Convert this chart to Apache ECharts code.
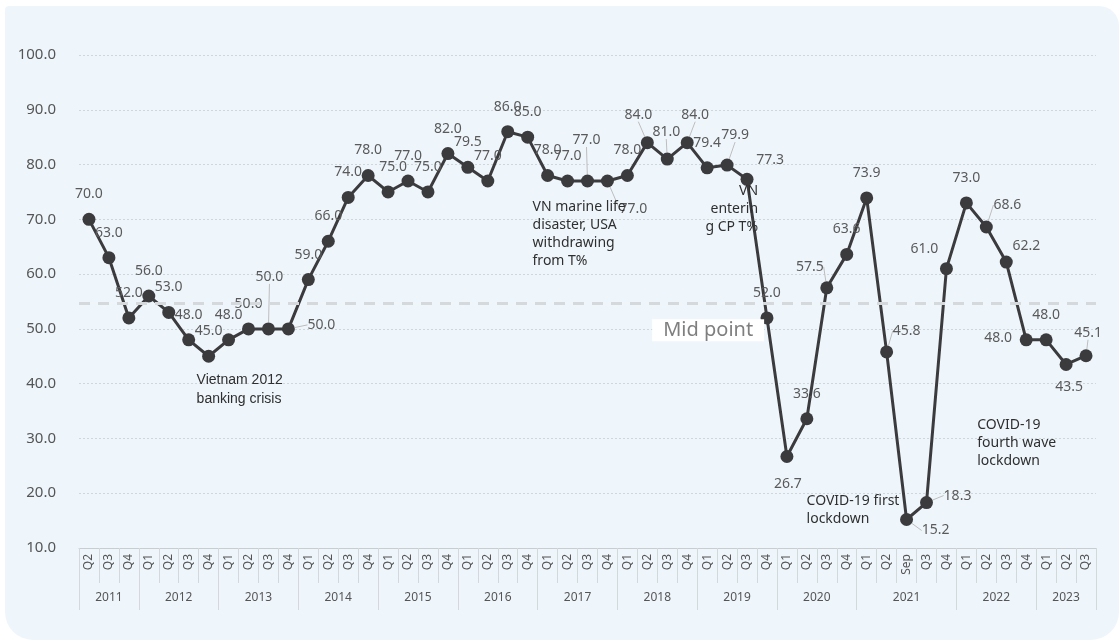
<!DOCTYPE html>
<html>
<head>
<meta charset="utf-8">
<script src="https://cdn.jsdelivr.net/npm/echarts@6/dist/echarts.min.js"></script>
<style>
  html, body { margin: 0; padding: 0; background: #ffffff; }
  #card { position: absolute; left: 5px; top: 6px; width: 1114px; height: 634px;
          background: #eef6fc; border-radius: 4px 20px 28px 28px; overflow: hidden; }
  #chart { position: absolute; left: -5px; top: -6px; width: 1119px; height: 640px; }
</style>
</head>
<body>
<div id="card"><div id="chart"></div></div>
<script>
// ---- data ----
const quarterLabels = [
  'Q2','Q3','Q4',
  'Q1','Q2','Q3','Q4',
  'Q1','Q2','Q3','Q4',
  'Q1','Q2','Q3','Q4',
  'Q1','Q2','Q3','Q4',
  'Q1','Q2','Q3','Q4',
  'Q1','Q2','Q3','Q4',
  'Q1','Q2','Q3','Q4',
  'Q1','Q2','Q3','Q4',
  'Q1','Q2','Q3','Q4',
  'Q1','Q2','Sep','Q3','Q4',
  'Q1','Q2','Q3','Q4',
  'Q1','Q2','Q3'
];
const yearLabels = ['2011','2012','2013','2014','2015','2016','2017','2018','2019','2020','2021','2022','2023'];
const yearSpans  = [3,4,4,4,4,4,4,4,4,4,5,4,3];
const values = [
  70.0, 63.0, 52.0,
  56.0, 53.0, 48.0, 45.0,
  48.0, 50.0, 50.0, 50.0,
  59.0, 66.0, 74.0, 78.0,
  75.0, 77.0, 75.0, 82.0,
  79.5, 77.0, 86.0, 85.0,
  78.0, 77.0, 77.0, 77.0,
  78.0, 84.0, 81.0, 84.0,
  79.4, 79.9, 77.3, 52.0,
  26.7, 33.6, 57.5, 63.6,
  73.9, 45.8, 15.2, 18.3, 61.0,
  73.0, 68.6, 62.2, 48.0,
  48.0, 43.5, 45.1
];
const midPoint = 54.7;
const yTicks = { min: 10, max: 100, interval: 10 };
const annotations = [
  { text: 'Vietnam 2012\nbanking crisis', anchor: 6 },
  { text: 'VN marine life\ndisaster, USA\nwithdrawing\nfrom T%', anchor: 24 },
  { text: 'VN\nenterin\ng CP T%', anchor: 33 },
  { text: 'COVID-19 first\nlockdown', anchor: 41 },
  { text: 'COVID-19\nfourth wave\nlockdown', anchor: 47 }
];

// ---- styling (label placement) ----
const defaultOffset = [0, -25];
const labelOffsetOverrides = {
  9: [1, -52], 10: [33, -4], 15: [5, -25], 25: [-1, -41], 26: [26, 28],
  28: [-9, -28], 29: [-1, -27], 30: [8, -28], 32: [8, -30], 33: [23, -19],
  35: [1, 27], 37: [-17, -21], 40: [20, -21], 41: [29, 11], 42: [31, -7],
  43: [-22, -20], 45: [21, -22], 46: [20, -16], 47: [-28, -2], 49: [3, 23], 50: [2, -23]
};
const leaderIdx = [9, 10, 25, 26, 28, 29, 30, 32, 37, 40, 41, 42, 45, 50];
const annotationStyle = [
  { offset: [-12, 14], align: 'left', font: 'Liberation Sans', lh: 19 },
  { offset: [-35, 17], align: 'left', font: 'Noto Sans', lh: 18 },
  { offset: [11, 3], align: 'right', font: 'Noto Sans', lh: 18 },
  { offset: [-100, -27], align: 'left', font: 'Noto Sans', lh: 18 },
  { offset: [-49, 76], align: 'left', font: 'Noto Sans', lh: 18 }
];

// ---- build year axis (half-band points) ----
const n = quarterLabels.length;
const yearAxisData = new Array(2 * n + 1).fill('');
const yearBoundaries = new Set();
let acc = 0;
yearSpans.forEach((span, i) => {
  yearBoundaries.add(2 * acc);
  yearAxisData[2 * acc + span] = yearLabels[i];
  acc += span;
});
yearBoundaries.add(2 * acc);

const seriesData = values.map((v, i) => {
  const item = { value: v };
  if (leaderIdx.indexOf(i) >= 0) {
    item.labelLine = { show: true, lineStyle: { color: '#bdbdbd', width: 1 } };
  }
  return item;
});

const markPoints = annotations.map((a, i) => ({
  coord: [a.anchor, values[a.anchor]],
  symbol: 'circle', symbolSize: 1,
  itemStyle: { color: 'rgba(0,0,0,0)' },
  label: {
    show: true, position: 'inside', formatter: a.text,
    offset: annotationStyle[i].offset, align: annotationStyle[i].align, verticalAlign: 'top',
    fontFamily: annotationStyle[i].font, fontSize: 14, lineHeight: annotationStyle[i].lh,
    color: '#2f2f2f'
  }
}));
markPoints.push({
  coord: [31, midPoint],
  symbol: 'circle', symbolSize: 1,
  itemStyle: { color: 'rgba(0,0,0,0)' },
  label: {
    show: true, position: 'inside', formatter: 'Mid point',
    offset: [1, 27], align: 'center', verticalAlign: 'middle',
    fontFamily: 'Noto Sans', fontSize: 20, color: '#7f7f7f',
    backgroundColor: '#ffffff', padding: [1, 11, 1, 11]
  }
});

const chart = echarts.init(document.getElementById('chart'), null, { renderer: 'canvas' });
chart.setOption({
  animation: false,
  backgroundColor: 'transparent',
  textStyle: { fontFamily: 'Noto Sans' },
  grid: { left: 79, right: 23, top: 55, bottom: 92, containLabel: false },
  xAxis: [
    {
      type: 'category', data: quarterLabels, boundaryGap: true,
      axisLine: { show: true, lineStyle: { color: '#c8cdd2', width: 1 } },
      axisTick: { show: true, interval: 0, length: 35, lineStyle: { color: '#d3d8dc' } },
      axisLabel: { interval: 0, rotate: 90, margin: 6, fontSize: 12, color: '#555555', fontFamily: 'Noto Sans' },
      splitLine: { show: false }
    },
    {
      type: 'category', data: yearAxisData, boundaryGap: false, position: 'bottom',
      axisLine: { show: false },
      axisTick: { show: true, length: 62, lineStyle: { color: '#d3d8dc' },
                  interval: (idx) => yearBoundaries.has(idx) },
      axisLabel: { interval: (idx, val) => val !== '', margin: 44, fontSize: 12, color: '#555555', fontFamily: 'Noto Sans' },
      splitLine: { show: false }
    }
  ],
  yAxis: {
    type: 'value', min: yTicks.min, max: yTicks.max, interval: yTicks.interval,
    axisLine: { show: false }, axisTick: { show: false },
    axisLabel: { formatter: (v) => v.toFixed(1), fontSize: 15, color: '#555555', margin: 23, fontFamily: 'Noto Sans' },
    splitLine: { show: true, lineStyle: { color: '#cfd6dc', type: [2, 2], width: 1 } }
  },
  series: [{
    type: 'line',
    xAxisIndex: 0,
    data: seriesData,
    symbol: 'circle', symbolSize: 13,
    lineStyle: { color: '#3b3b3d', width: 3 },
    itemStyle: { color: '#3b3b3d' },
    label: {
      show: true, formatter: (p) => p.value.toFixed(1),
      fontSize: 14, color: '#5a5a5a', fontFamily: 'Noto Sans'
    },
    labelLayout: (p) => {
      if (p.dataIndex == null || p.dataIndex >= n) return {};
      const o = labelOffsetOverrides[p.dataIndex] || defaultOffset;
      return {
        x: p.rect.x + p.rect.width / 2 + o[0],
        y: p.rect.y + p.rect.height / 2 + o[1],
        align: 'center', verticalAlign: 'middle'
      };
    },
    markLine: {
      silent: true, symbol: 'none',
      lineStyle: { color: '#d6d9dc', width: 3, type: [11, 8] },
      label: { show: false },
      data: [{ yAxis: midPoint }]
    },
    markPoint: { silent: true, data: markPoints },
    z: 3
  }]
});
</script>
</body>
</html>
